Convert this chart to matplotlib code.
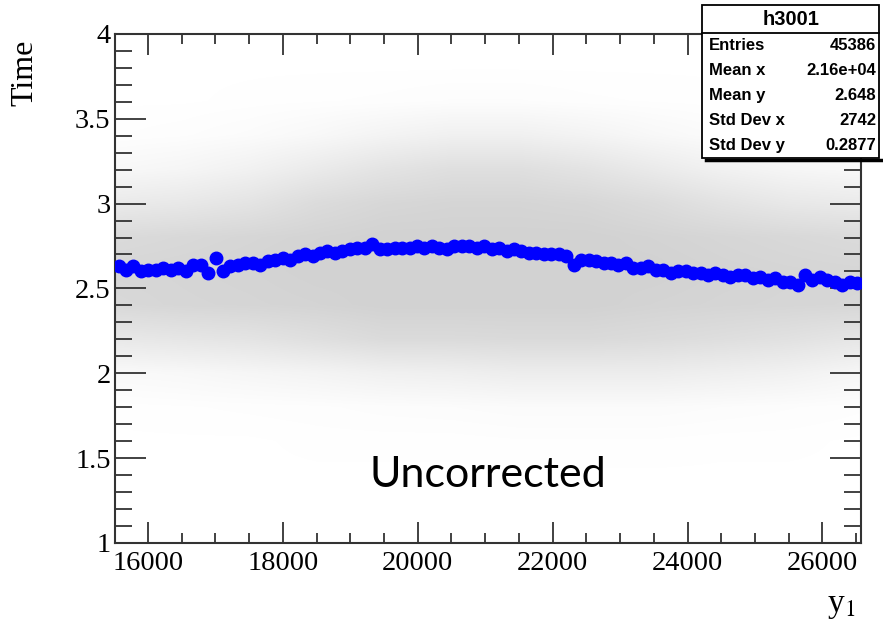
import numpy as np
import matplotlib
matplotlib.use('Agg')
import matplotlib.pyplot as plt
from matplotlib.colors import LinearSegmentedColormap
from matplotlib.patches import Rectangle
from matplotlib.lines import Line2D
from matplotlib.ticker import MultipleLocator

# profile (blue points): bin centres and mean Time
x_lo, x_hi = 15510, 26570
n_bins = 100
profile_y = [2.63, 2.61, 2.63, 2.60, 2.61, 2.61, 2.62, 2.61, 2.62, 2.60,
             2.64, 2.64, 2.59, 2.68, 2.60, 2.63, 2.64, 2.65, 2.65, 2.64,
             2.66, 2.67, 2.68, 2.67, 2.69, 2.70, 2.69, 2.71, 2.72, 2.71,
             2.72, 2.73, 2.74, 2.74, 2.76, 2.73, 2.73, 2.74, 2.74, 2.74,
             2.75, 2.74, 2.75, 2.74, 2.73, 2.75, 2.75, 2.75, 2.74, 2.75,
             2.73, 2.74, 2.72, 2.73, 2.72, 2.71, 2.71, 2.70, 2.70, 2.70,
             2.69, 2.64, 2.67, 2.67, 2.66, 2.65, 2.65, 2.64, 2.65, 2.62,
             2.62, 2.63, 2.61, 2.61, 2.59, 2.60, 2.60, 2.59, 2.59, 2.58,
             2.59, 2.58, 2.57, 2.58, 2.58, 2.56, 2.57, 2.55, 2.56, 2.54,
             2.54, 2.52, 2.58, 2.55, 2.57, 2.55, 2.54, 2.52, 2.54, 2.53]

# grey scatter cloud, as an estimated coverage grid (rows: high y -> low y)
cloud_x = [15500, 16500, 17500, 18500, 19500, 20500, 21500, 22500, 23500, 24500, 25500, 26500]
cloud_y = [3.8, 3.6, 3.4, 3.2, 3.0, 2.8, 2.6, 2.4, 2.2, 2.0, 1.8, 1.6, 1.4]
cloud_density = [
    [0.00, 0.00, 0.00, 0.00, 0.00, 0.00, 0.00, 0.00, 0.00, 0.00, 0.00, 0.00],
    [0.00, 0.00, 0.01, 0.02, 0.03, 0.05, 0.05, 0.03, 0.02, 0.01, 0.00, 0.00],
    [0.02, 0.04, 0.08, 0.15, 0.25, 0.32, 0.32, 0.25, 0.15, 0.08, 0.04, 0.02],
    [0.15, 0.20, 0.30, 0.45, 0.60, 0.70, 0.70, 0.60, 0.45, 0.30, 0.20, 0.15],
    [0.45, 0.50, 0.60, 0.78, 0.88, 0.92, 0.92, 0.88, 0.78, 0.62, 0.50, 0.45],
    [0.80, 0.85, 0.90, 0.95, 1.00, 1.00, 1.00, 1.00, 0.95, 0.90, 0.85, 0.80],
    [0.90, 0.92, 0.95, 1.00, 1.00, 1.00, 1.00, 1.00, 1.00, 0.95, 0.92, 0.90],
    [0.85, 0.90, 0.92, 0.95, 1.00, 1.00, 1.00, 1.00, 0.95, 0.92, 0.90, 0.88],
    [0.50, 0.55, 0.60, 0.70, 0.80, 0.80, 0.82, 0.82, 0.78, 0.72, 0.65, 0.55],
    [0.12, 0.15, 0.20, 0.25, 0.32, 0.35, 0.40, 0.40, 0.40, 0.35, 0.30, 0.20],
    [0.01, 0.02, 0.03, 0.04, 0.06, 0.07, 0.09, 0.09, 0.09, 0.07, 0.05, 0.03],
    [0.00, 0.00, 0.00, 0.01, 0.01, 0.01, 0.02, 0.02, 0.02, 0.01, 0.01, 0.00],
    [0.00, 0.00, 0.00, 0.00, 0.00, 0.00, 0.00, 0.00, 0.00, 0.00, 0.00, 0.00],
]

stats_labels = ['Entries', 'Mean x', 'Mean y', 'Std Dev x', 'Std Dev y']
stats_values = ['45386', '2.16e+04', '2.648', '2742', '0.2877']

fig = plt.figure(figsize=(8.83, 6.29), dpi=100)
ax = fig.add_axes([0.130, 0.137, 0.845, 0.809])

grey = LinearSegmentedColormap.from_list('grey', ['white', '#d2d2d2'])
dx = (cloud_x[1] - cloud_x[0]) / 2
dy = (cloud_y[0] - cloud_y[1]) / 2
ax.imshow(np.array(cloud_density), cmap=grey, vmin=0, vmax=1, aspect='auto',
          interpolation='bilinear',
          extent=[cloud_x[0] - dx, cloud_x[-1] + dx, cloud_y[-1] - dy, cloud_y[0] + dy],
          zorder=0)

bin_w = (x_hi - x_lo) / n_bins
bin_x = x_lo + bin_w * (np.arange(n_bins) + 0.5)
ax.plot(bin_x, profile_y, 'o', color='#0000ff', markersize=9, zorder=3)

ax.set_xlim(x_lo, x_hi)
ax.set_ylim(1, 4)
ax.xaxis.set_major_locator(MultipleLocator(2000))
ax.xaxis.set_minor_locator(MultipleLocator(500))
ax.yaxis.set_major_locator(MultipleLocator(0.5))
ax.yaxis.set_minor_locator(MultipleLocator(0.1))
ax.yaxis.set_major_formatter(matplotlib.ticker.FuncFormatter(lambda v, p: f'{v:g}'))
ax.tick_params(which='both', direction='in', top=True, right=True,
               color='#333333', width=1.3)
ax.tick_params(axis='x', which='major', length=15, pad=6)
ax.tick_params(axis='x', which='minor', length=7)
ax.tick_params(axis='y', which='major', length=22, pad=3)
ax.tick_params(axis='y', which='minor', length=12)
for lab in ax.get_xticklabels() + ax.get_yticklabels():
    lab.set_fontfamily('Liberation Serif')
    lab.set_fontsize(20.5)
for s in ax.spines.values():
    s.set_linewidth(1.5)
    s.set_color('#333333')

fig.text(0.028, 0.885, 'Time', rotation=90, ha='center', va='center',
         family='Liberation Serif', fontsize=23)
fig.text(0.953, 0.037, r'y$_{1}$', ha='center', va='center',
         family='Liberation Serif', fontsize=24,
         math_fontfamily='stix')

fig.text(0.552, 0.245, 'Uncorrected', ha='center', va='center',
         family='Lato', fontsize=31, color='black')

# stats box
bx0, bx1, by0, by1 = 0.795, 0.996, 0.749, 0.992
sep = 0.9475
fig.lines.append(Line2D([bx0 + 0.004, bx1 + 0.003], [by0 - 0.004, by0 - 0.004],
                        transform=fig.transFigure, color='black', lw=2.5))
fig.patches.append(Rectangle((bx0, by0), bx1 - bx0, by1 - by0, transform=fig.transFigure,
                             facecolor='white', edgecolor='black', lw=1.3, zorder=5))
fig.lines.append(Line2D([bx0, bx1], [sep, sep], transform=fig.transFigure,
                        color='black', lw=1.3, zorder=6))
fig.text((bx0 + bx1) / 2, (sep + by1) / 2, 'h3001', ha='center', va='center',
         family='Liberation Sans', fontsize=14.5, fontweight='bold', zorder=7)
row_h = (sep - by0) / len(stats_labels)
for i, (lab, val) in enumerate(zip(stats_labels, stats_values)):
    yy = sep - row_h * (i + 0.5)
    fig.text(bx0 + 0.008, yy, lab, ha='left', va='center',
             family='Liberation Sans', fontsize=12, fontweight='bold', zorder=7)
    fig.text(bx1 - 0.004, yy, val, ha='right', va='center',
             family='Liberation Sans', fontsize=12, fontweight='bold', zorder=7)

fig.savefig('out.png', dpi=100)
